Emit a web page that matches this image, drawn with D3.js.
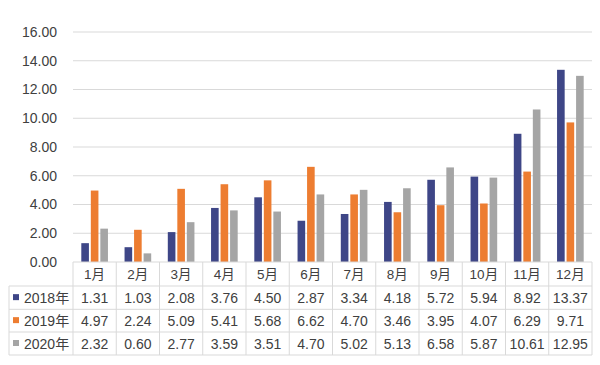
<!DOCTYPE html>
<html>
<head>
<meta charset="utf-8">
<script src="https://cdn.jsdelivr.net/npm/d3@7"></script>
<style>
html,body{margin:0;padding:0;background:#fff;}
svg{display:block;font-family:"Liberation Sans",Arial,"Noto Sans CJK SC",sans-serif;}
</style>
</head>
<body>
<svg id="chart" width="600" height="365"></svg>
<script>
const categories = ["1月","2月","3月","4月","5月","6月","7月","8月","9月","10月","11月","12月"];
const seriesNames = ["2018年","2019年","2020年"];
const s2018 = [1.31,1.03,2.08,3.76,4.50,2.87,3.34,4.18,5.72,5.94,8.92,13.37];
const s2019 = [4.97,2.24,5.09,5.41,5.68,6.62,4.70,3.46,3.95,4.07,6.29,9.71];
const s2020 = [2.32,0.60,2.77,3.59,3.51,4.70,5.02,5.13,6.58,5.87,10.61,12.95];
const yTicks = [0,2,4,6,8,10,12,14,16];
const colors = ["#3E4687","#ED7D31","#A5A5A5"];
const series = [s2018, s2019, s2020];

const svg = d3.select("#chart");
const plotLeft = 73, plotRight = 592, plotTop = 32, plotBottom = 262;
const rowH = [262, 286, 309.3, 332, 355];
const tableLeft = 9;
const textColor = "#404040";
const lineColor = "#d9d9d9";

const x0 = d3.scaleBand().domain(categories).range([plotLeft, plotRight]).padding(0);
const gw = x0.bandwidth();
const x1 = d3.scaleBand().domain([0,1,2]).range([gw*0.192, gw*0.808]).paddingInner(0.2).paddingOuter(0);
const y = d3.scaleLinear().domain([0,16]).range([plotBottom, plotTop]);

// gridlines
svg.append("g").selectAll("line").data(yTicks.filter(d=>d>0)).join("line")
  .attr("x1", plotLeft).attr("x2", plotRight)
  .attr("y1", d=>y(d)).attr("y2", d=>y(d))
  .attr("stroke", lineColor).attr("stroke-width", 1);

// y axis labels
const yAxis = d3.axisLeft(y).tickValues(yTicks).tickFormat(d3.format(".2f")).tickSize(0).tickPadding(16);
const ya = svg.append("g").attr("transform", `translate(${plotLeft},0)`).call(yAxis);
ya.select(".domain").remove();
ya.selectAll("text").attr("font-size", 14).attr("fill", textColor)
  .attr("font-family", "Liberation Sans, Arial, sans-serif");

// bars
categories.forEach((c, i) => {
  series.forEach((s, j) => {
    svg.append("rect")
      .attr("x", x0(c) + x1(j))
      .attr("width", x1.bandwidth())
      .attr("y", y(s[i]))
      .attr("height", y(0) - y(s[i]))
      .attr("fill", colors[j]);
  });
});

// table lines
const tg = svg.append("g").attr("stroke", lineColor).attr("stroke-width", 1).attr("fill","none");
tg.append("line").attr("x1", plotLeft).attr("x2", plotRight).attr("y1", rowH[0]).attr("y2", rowH[0]);
for (let k = 1; k < rowH.length; k++) {
  tg.append("line").attr("x1", tableLeft).attr("x2", plotRight).attr("y1", rowH[k]).attr("y2", rowH[k]);
}
tg.append("line").attr("x1", tableLeft).attr("x2", tableLeft).attr("y1", rowH[1]).attr("y2", rowH[4]);
categories.forEach(c => {
  tg.append("line").attr("x1", x0(c)).attr("x2", x0(c)).attr("y1", rowH[0]).attr("y2", rowH[4]);
});
tg.append("line").attr("x1", plotRight).attr("x2", plotRight).attr("y1", rowH[0]).attr("y2", rowH[4]);

// header labels
svg.append("g").selectAll("text").data(categories).join("text")
  .attr("x", d => x0(d) + gw/2)
  .attr("y", (rowH[0]+rowH[1])/2)
  .attr("dy", "0.36em")
  .attr("text-anchor", "middle")
  .attr("font-size", 13.5)
  .attr("fill", textColor)
  .text(d => d);

// rows
series.forEach((s, j) => {
  const cy = (rowH[j+1] + rowH[j+2]) / 2;
  svg.append("rect").attr("x", 13).attr("y", cy - 3.5).attr("width", 6).attr("height", 6).attr("fill", colors[j]);
  svg.append("text").attr("x", 24).attr("y", cy).attr("dy", "0.36em")
    .attr("font-size", 14).attr("fill", textColor).text(seriesNames[j]);
  svg.append("g").selectAll("text").data(s).join("text")
    .attr("x", (d, i) => x0(categories[i]) + gw/2)
    .attr("y", cy).attr("dy", "0.36em")
    .attr("text-anchor", "middle")
    .attr("font-size", 14).attr("fill", textColor)
    .text(d => d3.format(".2f")(d));
});
</script>
</body>
</html>
